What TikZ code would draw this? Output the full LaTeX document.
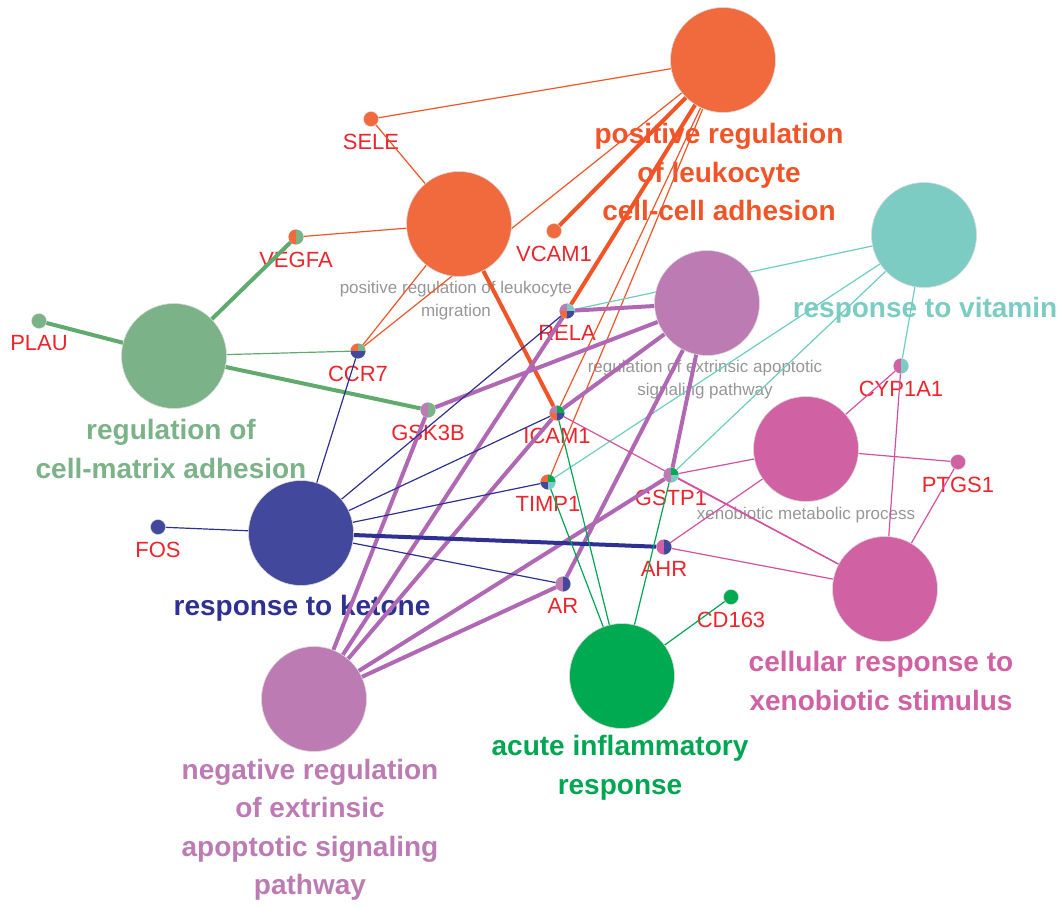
\documentclass[tikz,border=0pt]{standalone}
\usepackage{fontspec}
\setmainfont{Liberation Sans}
\usepackage{xcolor}
\usepackage{tikz}
\usetikzlibrary{positioning}

% cluster colours
\definecolor{leukOrange}{RGB}{240,106,62}
\definecolor{vitTeal}{RGB}{124,204,196}
\definecolor{apoLilac}{RGB}{189,123,180}
\definecolor{matGreen}{RGB}{123,178,135}
\definecolor{xenoPink}{RGB}{208,98,164}
\definecolor{ketNavy}{RGB}{66,72,155}
\definecolor{inflGreen}{RGB}{0,170,80}
% edges and texts
\definecolor{leukEdge}{RGB}{241,84,38}
\definecolor{vitEdge}{RGB}{110,204,192}
\definecolor{apoEdge}{RGB}{176,104,180}
\definecolor{matEdge}{RGB}{96,170,110}
\definecolor{xenoEdge}{RGB}{212,80,160}
\definecolor{ketEdge}{RGB}{46,49,146}
\definecolor{inflEdge}{RGB}{0,166,81}
\definecolor{geneRed}{RGB}{237,36,44}
\definecolor{procGrey}{RGB}{150,150,150}

\pgfdeclarelayer{labels}
\pgfdeclarelayer{edges}
\pgfsetlayers{labels,edges,main}

% two-colour gene marker: left, right
\newcommand{\halfpie}[3]{%
  \fill[#2] (#1.center) -- (#1.north) arc[start angle=90,end angle=270,radius=7.5pt] -- cycle;
  \fill[#3] (#1.center) -- (#1.south) arc[start angle=-90,end angle=90,radius=7.5pt] -- cycle;}
% four-colour gene marker: top left, top right, bottom left, bottom right
\newcommand{\quadpie}[5]{%
  \fill[#2] (#1.center) -- (#1.north) arc[start angle=90,end angle=180,radius=7.5pt] -- cycle;
  \fill[#3] (#1.center) -- (#1.east) arc[start angle=0,end angle=90,radius=7.5pt] -- cycle;
  \fill[#4] (#1.center) -- (#1.west) arc[start angle=180,end angle=270,radius=7.5pt] -- cycle;
  \fill[#5] (#1.center) -- (#1.south) arc[start angle=270,end angle=360,radius=7.5pt] -- cycle;}

\begin{document}
\begin{tikzpicture}[x=1pt, y=-1pt,
  term/.style={circle, draw=gray!30, line width=0.6pt, minimum size=105pt,
    inner sep=0pt, outer sep=0pt},
  gene/.style={circle, draw=gray!30, line width=0.4pt, minimum size=15pt,
    inner sep=0pt, outer sep=0pt},
  genelbl/.style={text=geneRed, font=\fontsize{22}{24}\selectfont, inner sep=0pt},
  termlbl/.style={font=\bfseries\fontsize{28}{38.5}\selectfont, align=center},
  proclbl/.style={text=procGrey, font=\fontsize{17}{23}\selectfont, align=center},
  weak/.style={line width=1.2pt},
  strong/.style={line width=4pt}
]
\useasboundingbox (0,0) rectangle (1063,907);

% GO terms
\node[term, fill=leukOrange] (leukcc) at (723,60) {};
\node[term, fill=leukOrange] (leukmig) at (459,224) {};
\node[term, fill=vitTeal] (vitamin) at (924,235) {};
\node[term, fill=apoLilac] (extrinsic) at (707,303) {};
\node[term, fill=matGreen] (matrix) at (174,356) {};
\node[term, fill=xenoPink] (xenometab) at (806,449) {};
\node[term, fill=ketNavy] (ketone) at (301,533) {};
\node[term, fill=xenoPink] (xenostim) at (885,589) {};
\node[term, fill=inflGreen] (inflam) at (622,676) {};
\node[term, fill=apoLilac] (negextr) at (314,699) {};

% genes
\node[gene, fill=leukOrange] (sele) at (371,119) {};
\node[gene] (vegfa) at (296,237) {};
\node[gene, fill=matGreen] (plau) at (39,321) {};
\node[gene, fill=leukOrange] (vcam1) at (554,231) {};
\node[gene] (rela) at (567,311) {};
\node[gene] (ccr7) at (358,351) {};
\node[gene] (gsk3b) at (428,410) {};
\node[gene] (icam1) at (557,413) {};
\node[gene] (timp1) at (548,482) {};
\node[gene] (gstp1) at (671,475) {};
\node[gene] (cyp1a1) at (901,366) {};
\node[gene, fill=xenoPink] (ptgs1) at (958,462) {};
\node[gene, fill=ketNavy] (fos) at (158,527) {};
\node[gene] (ahr) at (664,547) {};
\node[gene] (ar) at (563,584) {};
\node[gene, fill=inflGreen] (cd163) at (731,597) {};

% gene markers
\halfpie{vegfa}{leukOrange}{matGreen}
\quadpie{rela}{apoLilac}{vitTeal}{leukOrange}{ketNavy}
\quadpie{ccr7}{leukOrange}{matGreen}{ketNavy}{ketNavy}
\halfpie{gsk3b}{apoLilac}{matGreen}
\quadpie{icam1}{apoLilac}{inflGreen}{leukOrange}{ketNavy}
\quadpie{timp1}{leukOrange}{inflGreen}{ketNavy}{vitTeal}
\quadpie{gstp1}{apoLilac}{inflGreen}{apoLilac}{vitTeal}
\halfpie{cyp1a1}{xenoPink}{vitTeal}
\halfpie{ahr}{xenoPink}{ketNavy}
\halfpie{ar}{apoLilac}{ketNavy}

\begin{pgfonlayer}{labels}
% term labels
\node[termlbl, text=leukEdge] (leukcclbl) at (719,172)
  {positive regulation\\of leukocyte\\cell-cell adhesion};
\node[termlbl, text=vitTeal] (vitaminlbl) at (925,310) {response to vitamin};
\node[termlbl, text=matGreen] (matrixlbl) at (171,449)
  {regulation of\\cell-matrix adhesion};
\node[termlbl, text=ketEdge] (ketonelbl) at (302,608) {response to ketone};
\node[termlbl, text=xenoPink] (xenostimlbl) at (881,681)
  {cellular response to\\xenobiotic stimulus};
\node[termlbl, text=inflEdge] (inflamlbl) at (620,768)
  {acute inflammatory\\response};
\node[termlbl, text=apoLilac] (negextrlbl) at (310,830)
  {negative regulation\\of extrinsic\\apoptotic signaling\\pathway};

% process labels
\node[proclbl] (leukmiglbl) at (456,301)
  {positive regulation of leukocyte\\migration};
\node[proclbl] (extrinsiclbl) at (705,380)
  {regulation of extrinsic apoptotic\\signaling pathway};
\node[proclbl] (xenometablbl) at (806,515) {xenobiotic metabolic process};

% gene labels
\node[genelbl, below=7pt of sele] {SELE};
\node[genelbl, below=7pt of vegfa] {VEGFA};
\node[genelbl, below=7pt of plau] {PLAU};
\node[genelbl, below=7pt of vcam1] {VCAM1};
\node[genelbl, below=7pt of rela] {RELA};
\node[genelbl, below=7pt of ccr7] {CCR7};
\node[genelbl, below=7pt of gsk3b] {GSK3B};
\node[genelbl, below=7pt of icam1] {ICAM1};
\node[genelbl, below=7pt of timp1] {TIMP1};
\node[genelbl, below=7pt of gstp1] {GSTP1};
\node[genelbl, below=7pt of cyp1a1] {CYP1A1};
\node[genelbl, below=7pt of ptgs1] {PTGS1};
\node[genelbl, below=7pt of fos] {FOS};
\node[genelbl, below=7pt of ahr] {AHR};
\node[genelbl, below=7pt of ar] {AR};
\node[genelbl, below=7pt of cd163] {CD163};
\end{pgfonlayer}

\begin{pgfonlayer}{edges}
% leukocyte adhesion
\draw[weak, leukEdge] (leukcc) -- (sele);
\draw[weak, leukEdge] (leukcc) -- (ccr7);
\draw[weak, leukEdge] (leukcc) -- (icam1);
\draw[weak, leukEdge] (leukcc) -- (timp1);
\draw[strong, leukEdge] (leukcc) -- (vcam1);
\draw[strong, leukEdge] (leukcc) -- (rela);
\draw[weak, leukEdge] (leukmig) -- (sele);
\draw[weak, leukEdge] (leukmig) -- (vegfa);
\draw[weak, leukEdge] (leukmig) -- (ccr7);
\draw[strong, leukEdge] (leukmig) -- (icam1);

% cell-matrix adhesion
\draw[strong, matEdge] (matrix) -- (vegfa);
\draw[strong, matEdge] (matrix) -- (plau);
\draw[weak, matEdge] (matrix) -- (ccr7);
\draw[strong, matEdge] (matrix) -- (gsk3b);

% vitamin
\draw[weak, vitEdge] (vitamin) -- (rela);
\draw[weak, vitEdge] (vitamin) -- (timp1);
\draw[weak, vitEdge] (vitamin) -- (gstp1);
\draw[weak, vitEdge] (vitamin) -- (cyp1a1);

% apoptotic signaling
\draw[strong, apoEdge] (extrinsic) -- (rela);
\draw[strong, apoEdge] (extrinsic) -- (gsk3b);
\draw[strong, apoEdge] (extrinsic) -- (icam1);
\draw[strong, apoEdge] (extrinsic) -- (ar);
\draw[strong, apoEdge] (extrinsic) -- (gstp1);
\draw[strong, apoEdge] (negextr) -- (gsk3b);
\draw[strong, apoEdge] (negextr) -- (rela);
\draw[strong, apoEdge] (negextr) -- (icam1);
\draw[strong, apoEdge] (negextr) -- (gstp1);
\draw[strong, apoEdge] (negextr) -- (ar);

% ketone
\draw[weak, ketEdge] (ketone) -- (fos);
\draw[weak, ketEdge] (ketone) -- (ccr7);
\draw[weak, ketEdge] (ketone) -- (rela);
\draw[weak, ketEdge] (ketone) -- (icam1);
\draw[weak, ketEdge] (ketone) -- (timp1);
\draw[weak, ketEdge] (ketone) -- (ar);
\draw[strong, ketEdge] (ketone) -- (ahr);

% inflammatory response
\draw[weak, inflEdge] (inflam) -- (icam1);
\draw[weak, inflEdge] (inflam) -- (timp1);
\draw[weak, inflEdge] (inflam) -- (gstp1);
\draw[weak, inflEdge] (inflam) -- (cd163);

% xenobiotics
\draw[weak, xenoEdge] (xenometab) -- (cyp1a1);
\draw[weak, xenoEdge] (xenometab) -- (ptgs1);
\draw[weak, xenoEdge] (xenometab) -- (gstp1);
\draw[weak, xenoEdge] (xenometab) -- (ahr);
\draw[weak, xenoEdge] (xenostim) -- (cyp1a1);
\draw[weak, xenoEdge] (xenostim) -- (ptgs1);
\draw[weak, xenoEdge] (xenostim) -- (ahr);
\draw[weak, xenoEdge] (xenostim) -- (icam1);
\draw[weak, xenoEdge] (xenostim) -- (gstp1);
\end{pgfonlayer}

\end{tikzpicture}
\end{document}
